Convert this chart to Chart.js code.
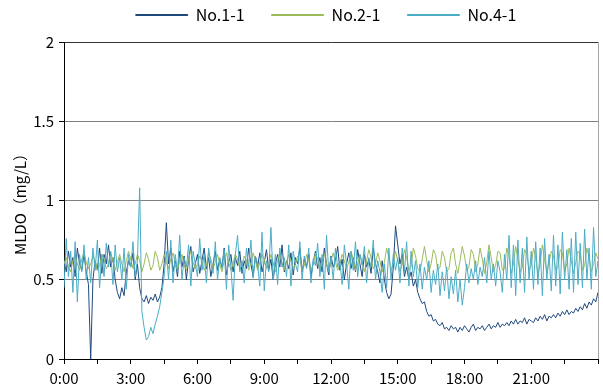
<!DOCTYPE html>
<html>
<head>
<meta charset="utf-8">
<script src="https://cdn.jsdelivr.net/npm/chart.js@4"></script>
<style>
  html, body { margin: 0; padding: 0; background: #fff; }
</style>
</head>
<body>
<canvas id="grafico" width="603" height="392"></canvas>
<script>
        // Eje X: horas (muestras cada 6 min)
        const hours = Array.from({ length: 241 }, (_, i) => i / 10);
        const tickHours = [0, 1.5, 3, 4.5, 6, 7.5, 9, 10.5, 12, 13.5, 15, 16.5, 18, 19.5, 21, 22.5, 24];
        const labelHours = [0, 3, 6, 9, 12, 15, 18, 21];
        const tickLabels = ['0:00', '3:00', '6:00', '9:00', '12:00', '15:00', '18:00', '21:00'];
        const yTicks = [0, 0.5, 1, 1.5, 2];

        // MLDO (mg/L)
        const no11 = [
            0.62, 0.55, 0.68, 0.58, 0.64, 0.52, 0.70, 0.60, 0.56, 0.66,
            0.55, 0.47, 0.00, 0.50, 0.62, 0.56, 0.70, 0.54, 0.66, 0.60,
            0.72, 0.58, 0.64, 0.50, 0.42, 0.38, 0.45, 0.40, 0.55, 0.62,
            0.58, 0.67, 0.50, 0.60, 0.45, 0.38, 0.36, 0.40, 0.35, 0.39,
            0.37, 0.41, 0.36, 0.39, 0.45, 0.60, 0.86, 0.60, 0.70, 0.55,
            0.62, 0.52, 0.68, 0.58, 0.65, 0.50, 0.63, 0.71, 0.55, 0.60,
            0.66, 0.54, 0.62, 0.70, 0.57, 0.64, 0.52, 0.60, 0.68, 0.56,
            0.63, 0.58, 0.70, 0.53, 0.61, 0.66, 0.55, 0.64, 0.59, 0.68,
            0.54, 0.62, 0.57, 0.70, 0.60, 0.52, 0.65, 0.58, 0.67, 0.55,
            0.61, 0.69, 0.56, 0.63, 0.50, 0.60, 0.66, 0.58, 0.72, 0.55,
            0.62, 0.57, 0.67, 0.53, 0.64, 0.60, 0.70, 0.55, 0.63, 0.58,
            0.66, 0.52, 0.61, 0.68, 0.57, 0.64, 0.55, 0.70, 0.60, 0.53,
            0.65, 0.58, 0.62, 0.71, 0.56, 0.63, 0.50, 0.60, 0.67, 0.57,
            0.64, 0.55, 0.69, 0.60, 0.52, 0.66, 0.58, 0.63, 0.54, 0.70,
            0.60, 0.55, 0.48, 0.62, 0.50, 0.42, 0.38, 0.41, 0.58, 0.84,
            0.72, 0.60, 0.66, 0.52, 0.58, 0.50, 0.55, 0.46, 0.50, 0.42,
            0.38, 0.35, 0.36, 0.30, 0.27, 0.28, 0.24, 0.25, 0.22, 0.21,
            0.23, 0.19, 0.20, 0.18, 0.21, 0.19, 0.20, 0.17, 0.20, 0.18,
            0.21, 0.19, 0.17, 0.20, 0.22, 0.18, 0.20, 0.19, 0.21, 0.18,
            0.20, 0.22, 0.19, 0.21, 0.20, 0.23, 0.20, 0.22, 0.21, 0.23,
            0.21, 0.24, 0.22, 0.25, 0.22, 0.24, 0.23, 0.26, 0.22, 0.25,
            0.24, 0.23, 0.26, 0.24, 0.27, 0.25, 0.28, 0.24, 0.27, 0.26,
            0.28, 0.26, 0.29, 0.27, 0.30, 0.28, 0.31, 0.28, 0.30, 0.29,
            0.32, 0.30, 0.33, 0.31, 0.35, 0.32, 0.36, 0.34, 0.38, 0.36,
            0.42
        ];
        const no21 = [
            0.60, 0.64, 0.58, 0.55, 0.62, 0.66, 0.60, 0.56, 0.63, 0.67,
            0.61, 0.57, 0.60, 0.65, 0.62, 0.56, 0.59, 0.66, 0.63, 0.57,
            0.60, 0.67, 0.62, 0.56, 0.61, 0.66, 0.60, 0.55, 0.62, 0.68,
            0.63, 0.57, 0.60, 0.66, 0.62, 0.55, 0.60, 0.67, 0.63, 0.56,
            0.59, 0.68, 0.64, 0.56, 0.60, 0.66, 0.61, 0.57, 0.63, 0.67,
            0.60, 0.56, 0.62, 0.66, 0.59, 0.56, 0.63, 0.68, 0.61, 0.57,
            0.60, 0.65, 0.62, 0.56, 0.59, 0.67, 0.63, 0.57, 0.61, 0.66,
            0.60, 0.55, 0.62, 0.67, 0.61, 0.56, 0.60, 0.66, 0.63, 0.57,
            0.59, 0.65, 0.62, 0.56, 0.60, 0.67, 0.62, 0.56, 0.61, 0.66,
            0.63, 0.57, 0.60, 0.66, 0.61, 0.55, 0.62, 0.67, 0.60, 0.56,
            0.61, 0.66, 0.62, 0.57, 0.60, 0.65, 0.63, 0.56, 0.59, 0.66,
            0.62, 0.56, 0.60, 0.67, 0.63, 0.57, 0.61, 0.66, 0.60, 0.55,
            0.62, 0.67, 0.61, 0.56, 0.60, 0.66, 0.62, 0.57, 0.61, 0.68,
            0.63, 0.56, 0.60, 0.66, 0.61, 0.55, 0.62, 0.69, 0.64, 0.57,
            0.60, 0.67, 0.62, 0.55, 0.61, 0.70, 0.64, 0.56, 0.60, 0.68,
            0.62, 0.55, 0.60, 0.69, 0.64, 0.56, 0.58, 0.70, 0.65, 0.57,
            0.55, 0.63, 0.71, 0.62, 0.55, 0.60, 0.69, 0.66, 0.56, 0.58,
            0.68, 0.64, 0.55, 0.57, 0.67, 0.70, 0.60, 0.54, 0.62, 0.71,
            0.65, 0.56, 0.58, 0.69, 0.66, 0.55, 0.60, 0.70, 0.63, 0.54,
            0.61, 0.72, 0.64, 0.55, 0.59, 0.68, 0.67, 0.56, 0.57, 0.70,
            0.65, 0.54, 0.60, 0.71, 0.63, 0.55, 0.58, 0.69, 0.66, 0.56,
            0.59, 0.70, 0.64, 0.53, 0.60, 0.72, 0.62, 0.55, 0.61, 0.68,
            0.65, 0.56, 0.58, 0.69, 0.67, 0.55, 0.60, 0.70, 0.62, 0.54,
            0.61, 0.68, 0.66, 0.56, 0.59, 0.70, 0.64, 0.55, 0.60, 0.67,
            0.63
        ];
        const no41 = [
            0.45, 0.76, 0.52, 0.68, 0.42, 0.74, 0.36, 0.66, 0.55, 0.72,
            0.50, 0.64, 0.48, 0.70, 0.56, 0.75, 0.45, 0.66, 0.52, 0.73,
            0.58, 0.68, 0.47, 0.72, 0.55, 0.64, 0.50, 0.70, 0.44, 0.66,
            0.58, 0.74, 0.52, 0.62, 1.08, 0.30, 0.20, 0.12, 0.14, 0.20,
            0.16, 0.22, 0.27, 0.33, 0.42, 0.52, 0.68, 0.50, 0.75, 0.48,
            0.66, 0.55, 0.78, 0.50, 0.64, 0.58, 0.72, 0.46, 0.68, 0.60,
            0.52, 0.76, 0.56, 0.66, 0.48, 0.70, 0.60, 0.54, 0.74, 0.50,
            0.64, 0.57, 0.69, 0.44, 0.72, 0.58, 0.37, 0.66, 0.78, 0.55,
            0.62, 0.48, 0.70, 0.58, 0.75, 0.51, 0.65, 0.60, 0.46, 0.80,
            0.43, 0.62, 0.55, 0.83, 0.50, 0.66, 0.47, 0.70, 0.58, 0.64,
            0.52, 0.72, 0.46, 0.68, 0.60, 0.55, 0.74, 0.50, 0.65, 0.57,
            0.70, 0.48, 0.63, 0.59, 0.73, 0.52, 0.66, 0.44, 0.78, 0.55,
            0.64, 0.50, 0.70, 0.58, 0.62, 0.47, 0.72, 0.60, 0.44, 0.68,
            0.56, 0.74, 0.52, 0.66, 0.59, 0.71, 0.48, 0.64, 0.58, 0.75,
            0.50, 0.62, 0.55, 0.42, 0.60, 0.45, 0.70, 0.50, 0.66, 0.56,
            0.64, 0.48, 0.70, 0.55, 0.74, 0.46, 0.68, 0.52, 0.62, 0.45,
            0.60, 0.44, 0.58, 0.50, 0.62, 0.42, 0.56, 0.47, 0.60, 0.40,
            0.55, 0.43, 0.58, 0.38, 0.52, 0.41, 0.56, 0.36, 0.50, 0.34,
            0.45, 0.60, 0.48, 0.57, 0.50, 0.62, 0.47, 0.58, 0.52, 0.64,
            0.48, 0.68, 0.50, 0.60, 0.46, 0.62, 0.55, 0.42, 0.66, 0.50,
            0.78, 0.45, 0.72, 0.40, 0.75, 0.48, 0.70, 0.42, 0.77, 0.50,
            0.68, 0.44, 0.74, 0.47, 0.70, 0.40, 0.76, 0.50, 0.66, 0.43,
            0.78, 0.46, 0.72, 0.41, 0.80, 0.50, 0.69, 0.44, 0.76, 0.42,
            0.80, 0.47, 0.73, 0.45, 0.82, 0.50, 0.70, 0.44, 0.83, 0.52,
            0.62
        ];

        const fuente = "'Noto Sans CJK JP', 'Noto Sans', sans-serif";
        const toPoints = arr => arr.map((v, i) => ({ x: hours[i], y: v }));

        // Leyenda más alta y desplazada hacia el centro del área de trazado
        const legendFit = {
            id: 'legendFit',
            beforeInit(chart) {
                const fit = chart.legend.fit;
                chart.legend.fit = function () {
                    fit.call(this);
                    this.height = 62;
                };
            },
            afterLayout(chart) {
                chart.legend.left += 27;
                chart.legend.right += 27;
            }
        };

        // Borde derecho del área de trazado
        const rightBorder = {
            id: 'rightBorder',
            afterDraw(chart) {
                const { ctx, chartArea } = chart;
                ctx.save();
                ctx.strokeStyle = '#a6a6a6';
                ctx.lineWidth = 1;
                ctx.beginPath();
                ctx.moveTo(chartArea.right + 0.5, chartArea.top);
                ctx.lineTo(chartArea.right + 0.5, chartArea.bottom);
                ctx.stroke();
                ctx.restore();
            }
        };

        const chartData = {
            datasets: [
                { label: 'No.1-1', data: toPoints(no11), borderColor: '#1F497D', backgroundColor: '#1F497D', order: 2 },
                { label: 'No.2-1', data: toPoints(no21), borderColor: '#9BBB59', backgroundColor: '#9BBB59', order: 1 },
                { label: 'No.4-1', data: toPoints(no41), borderColor: '#4BACC6', backgroundColor: '#4BACC6', order: 0 }
            ]
        };
        chartData.datasets.forEach(ds => {
            ds.borderWidth = 1;
            ds.pointRadius = 0;
            ds.tension = 0;
        });

        const chartOptions = {
            responsive: false,
            animation: false,
            layout: { padding: { top: -20, right: 5, left: 0, bottom: 0 } },
            plugins: {
                legend: {
                    position: 'top',
                    labels: {
                        boxWidth: 52,
                        boxHeight: 1,
                        padding: 27,
                        color: '#000',
                        font: { size: 16, family: fuente },
                        sort: (a, b) => a.datasetIndex - b.datasetIndex
                    }
                },
                tooltip: { enabled: false }
            },
            scales: {
                x: {
                    type: 'linear',
                    min: 0,
                    max: 24,
                    afterBuildTicks: axis => { axis.ticks = tickHours.map(v => ({ value: v })); },
                    afterFit: axis => { axis.height = 33; },
                    ticks: {
                        autoSkip: false,
                        maxRotation: 0,
                        padding: 5,
                        color: '#000',
                        font: { size: 15, family: fuente },
                        callback: v => {
                            const k = labelHours.indexOf(v);
                            return k >= 0 ? tickLabels[k] : '';
                        }
                    },
                    grid: { drawOnChartArea: false, tickLength: 5, tickColor: '#000' },
                    border: { color: '#000' }
                },
                y: {
                    min: 0,
                    max: 2,
                    afterBuildTicks: axis => { axis.ticks = yTicks.map(v => ({ value: v })); },
                    afterFit: axis => { axis.width = 64; },
                    ticks: {
                        padding: 5,
                        color: '#000',
                        font: { size: 15, family: fuente },
                        callback: v => String(v)
                    },
                    grid: {
                        color: c => (c.tick && c.tick.value === 2) ? '#333' : '#808080',
                        tickLength: 5,
                        tickColor: '#000'
                    },
                    border: { color: '#000' },
                    title: {
                        display: true,
                        text: 'MLDO（mg/L）',
                        color: '#000',
                        font: { size: 15, family: fuente },
                        padding: { top: 11, bottom: 0 }
                    }
                }
            }
        };

        const canvas = document.getElementById('grafico');
        const ctx = canvas.getContext('2d');
        const chart = new Chart(ctx, {
            type: 'line',
            data: chartData,
            options: chartOptions,
            plugins: [legendFit, rightBorder]
        });
</script>
</body>
</html>
